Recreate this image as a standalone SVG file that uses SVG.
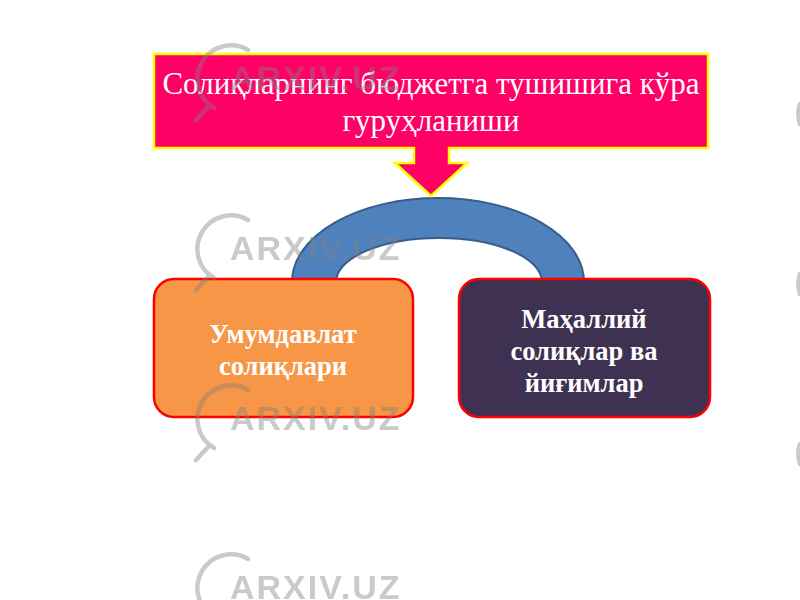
<svg xmlns="http://www.w3.org/2000/svg" width="800" height="600" viewBox="0 0 800 600">
<defs>
<style>
.title{font-family:"Liberation Serif","Times New Roman",serif;font-size:31px;fill:#FFFFFF;text-anchor:middle}
.lbl{font-family:"Liberation Serif","Times New Roman",serif;font-size:26.5px;font-weight:bold;fill:#FFFFFF;text-anchor:middle}
.box{stroke:#FF0000;stroke-width:2.5}
.wm{opacity:0.42}
.wmt{font-family:"Liberation Sans",Arial,sans-serif;font-weight:bold;font-size:34px;letter-spacing:2px;fill:#808080}
.wmc{fill:none;stroke:#808080;stroke-width:4.5;stroke-linecap:round}
</style>
<g id="wmark">
<path class="wmc" d="M248,50 A32,32 0 1 0 214,108"/>
<path class="wmc" d="M209,106 L196,120" stroke-width="7"/>
<text class="wmt" x="230" y="90">ARXIV.UZ</text>
</g>
<g id="wmedge">
<path class="wmc" d="M800,104 A32,32 0 0 0 800,124" stroke-width="5"/>
</g>
</defs>
<rect width="800" height="600" fill="#FFFFFF"/>
<g id="connectors">
<path d="M292,282 A146,84 0 0 1 584,282 L542,282 A103,44 0 0 0 336,282 Z" fill="#4F81BD" stroke="#385D8A" stroke-width="2"/>
</g>
<g id="title">
<path d="M154,54 H708 V148 H449 V163 H467 L431,196 L395,163 H414 V148 H154 Z" fill="#FF0066" stroke="#FFFF00" stroke-width="2.5"/>
<text class="title" x="431" y="94">Солиқларнинг бюджетга тушишига кўра</text>
<text class="title" x="431" y="131">гуруҳланиши</text>
</g>
<g id="node-left">
<rect class="box" x="154" y="279" width="259" height="138" rx="20" fill="#F79646"/>
<text class="lbl" x="283" y="343">Умумдавлат</text>
<text class="lbl" x="283" y="375">солиқлари</text>
</g>
<g id="node-right">
<rect class="box" x="459" y="279" width="251" height="138" rx="20" fill="#3F3151"/>
<text class="lbl" x="584" y="328">Маҳаллий</text>
<text class="lbl" x="584" y="360">солиқлар ва</text>
<text class="lbl" x="584" y="392">йиғимлар</text>
</g>
<g id="watermarks" class="wm">
<use href="#wmark"/>
<use href="#wmark" y="170"/>
<use href="#wmark" y="340"/>
<use href="#wmark" y="509"/>
<use href="#wmedge"/>
<use href="#wmedge" y="170"/>
<use href="#wmedge" y="340"/>
</g>
</svg>
